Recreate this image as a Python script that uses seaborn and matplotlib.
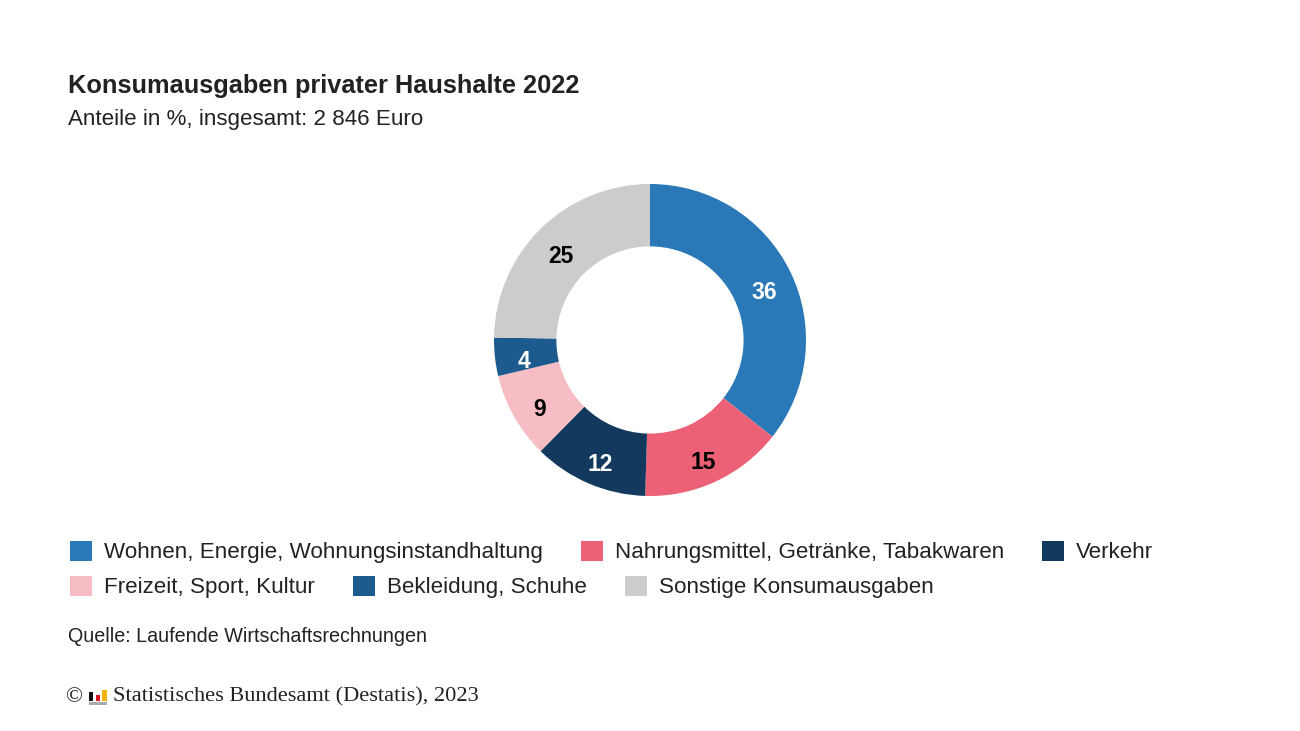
import matplotlib
matplotlib.use("Agg")
import matplotlib.pyplot as plt
import matplotlib.transforms as mtransforms
from matplotlib.patches import Rectangle, Patch
import numpy as np
import seaborn as sns

sns.set_theme(style="white")
plt.rcParams["font.family"] = ["Liberation Sans", "DejaVu Sans"]

# data
categories = [
    "Wohnen, Energie, Wohnungsinstandhaltung",
    "Nahrungsmittel, Getränke, Tabakwaren",
    "Verkehr",
    "Freizeit, Sport, Kultur",
    "Bekleidung, Schuhe",
    "Sonstige Konsumausgaben",
]
shares = [36, 15, 12, 9, 4, 25]
colors = ["#2a78b8", "#ec6175", "#133a5e", "#f6bdc4", "#1d5a8e", "#cccccc"]
label_colors = ["white", "black", "white", "black", "white", "black"]

title = "Konsumausgaben privater Haushalte 2022"
subtitle = "Anteile in %, insgesamt: 2 846 Euro"
source = "Quelle: Laufende Wirtschaftsrechnungen"
copyright_txt = "Statistisches Bundesamt (Destatis), 2023"

W, H = 1300, 731
fig = plt.figure(figsize=(W / 100, H / 100), dpi=100)
fig.patch.set_facecolor("white")

# donut
cx, cy, r = 650, 340, 156
ax = fig.add_axes([(cx - r) / W, (H - cy - r) / H, 2 * r / W, 2 * r / H])
wedges, _ = ax.pie(shares, colors=colors, startangle=90, counterclock=False,
                   radius=1.0, wedgeprops=dict(width=0.4, linewidth=0))
ax.set_xlim(-1, 1)
ax.set_ylim(-1, 1)
ax.set_aspect("equal")
ax.axis("off")

# labels sit a little below the ring's mid radius
lab_tr = mtransforms.offset_copy(ax.transData, fig=fig, y=-5, units="dots")
for w, val, lc in zip(wedges, shares, label_colors):
    ang = np.deg2rad((w.theta1 + w.theta2) / 2)
    ax.text(0.815 * np.cos(ang), 0.815 * np.sin(ang), str(val), ha="center",
            va="center_baseline", fontsize=16.5, fontweight="bold", color=lc,
            transform=lab_tr)

# titles
fig.text(68 / W, 1 - 86 / H, title, fontsize=18.25, fontweight="bold", color="#222222",
         ha="left", va="center")
fig.text(68 / W, 1 - 119 / H, subtitle, fontsize=16.1, color="#222222", ha="left", va="center")

# legend, two rows
handles = [Patch(facecolor=c, edgecolor="none") for c in colors]
fs_leg = 16.1
px_per_em = fs_leg * 100 / 72
for row, y in enumerate([552, 587]):
    idx = range(row * 3, row * 3 + 3)
    leg = fig.legend([handles[i] for i in idx], [categories[i] for i in idx],
                     loc="center left", bbox_to_anchor=(70 / W, 1 - y / H), ncol=3,
                     frameon=False, fontsize=fs_leg, handlelength=22 / px_per_em,
                     handleheight=22 / px_per_em, handletextpad=12 / px_per_em,
                     columnspacing=38 / px_per_em, borderpad=0, borderaxespad=0)
    for t in leg.get_texts():
        t.set_color("#222222")

fig.text(68 / W, 1 - 636 / H, source, fontsize=14.2, color="#222222", ha="left", va="center")

# footer with small logo
fig.text(66 / W, 1 - 698 / H, "\u00a9", fontsize=16, family=["Liberation Serif", "DejaVu Serif"],
         color="#222222", ha="left", va="center")
fig.text(113 / W, 1 - 697 / H, copyright_txt, fontsize=16.1,
         family=["Liberation Serif", "DejaVu Serif"], color="#222222", ha="left", va="center")
for x0, y0, w0, h0, c in [(89, 692, 4, 9, "#111111"), (96, 695, 4, 6, "#dd1122"),
                          (102, 690, 5, 11, "#f2b400"), (89, 702, 18, 3, "#aaaaaa")]:
    fig.patches.append(Rectangle((x0 / W, 1 - (y0 + h0) / H), w0 / W, h0 / H,
                                 transform=fig.transFigure, facecolor=c, edgecolor="none"))

fig.savefig("out.png", dpi=100, facecolor="white")
